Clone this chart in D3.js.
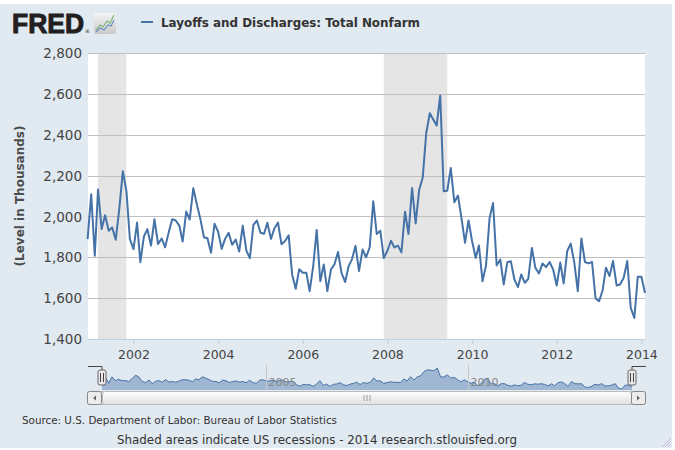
<!DOCTYPE html>
<html><head><meta charset="utf-8">
<script src="https://cdn.jsdelivr.net/npm/d3@7"></script>
<style>html,body{margin:0;padding:0;background:#fff}svg{display:block}</style>
</head><body>
<svg id="chart" width="675" height="450"></svg>
<script>
// ---- data ----
const seriesName = "Layoffs and Discharges: Total Nonfarm";
const startMonth = "2000-12-01";
const values = [
 1889,2108,1808,2132,1938,2006,1930,1946,1886,2040,2221,2124,1889,1840,1970,1776,1902,1938,1857,1986,
 1865,1892,1849,1922,1986,1980,1954,1877,2024,1985,2138,2061,1988,1898,1893,1822,1964,1926,1841,1890,
 1920,1861,1887,1828,1955,1833,1796,1959,1980,1920,1915,1969,1890,1941,1970,1864,1880,1908,1716,1646,
 1741,1724,1724,1634,1757,1934,1683,1765,1634,1741,1765,1826,1724,1679,1757,1790,1856,1733,1838,1800,
 1848,2074,1914,1930,1796,1832,1881,1848,1857,1824,2023,1914,2139,1966,2129,2191,2407,2505,2473,2445,
 2592,2123,2126,2237,2069,2102,1993,1871,1980,1879,1797,1858,1683,1760,1993,2066,1760,1789,1667,1776,
 1781,1691,1654,1716,1675,1695,1846,1748,1721,1770,1752,1777,1741,1662,1774,1672,1831,1867,1774,1634,
 1892,1777,1770,1777,1600,1585,1640,1749,1708,1782,1662,1667,1700,1782,1552,1503,1705,1705,1625
];
const recessions = [["2001-03-01","2001-11-01"],["2007-12-01","2009-06-01"]];
const yTicks = [1400,1600,1800,2000,2200,2400,2600,2800];
const xTickYears = [2002,2004,2006,2008,2010,2012,2014];
const navTickYears = [2005,2010];
const yTitle = "(Level in Thousands)";
const sourceText = "Source: U.S. Department of Labor: Bureau of Labor Statistics";
const noteText = "Shaded areas indicate US recessions - 2014 research.stlouisfed.org";

// ---- build ----
const parse = d3.timeParse("%Y-%m-%d");
const t0 = parse(startMonth);
const data = values.map((v,i)=>({date:d3.timeMonth.offset(t0,i), value:v}));

const svg = d3.select("#chart");
const BG = "#e1e9f1", LINE = "#4572a7";
svg.append("rect").attr("x",0).attr("y",4).attr("width",672).attr("height",444).attr("fill",BG);

const L=88, R=645, T=53, B=339;
const x = d3.scaleTime().domain([t0, data[data.length-1].date]).range([L-0.4,R]);
const y = d3.scaleLinear().domain([1400,2800]).range([B,T]);

svg.append("rect").attr("x",L).attr("y",T).attr("width",R-L).attr("height",B-T).attr("fill","#fff");

// recessions
svg.append("g").selectAll("rect").data(recessions).join("rect")
  .attr("x",d=>x(parse(d[0]))).attr("width",d=>x(parse(d[1]))-x(parse(d[0])))
  .attr("y",T).attr("height",B-T).attr("fill","#e5e5e5");

// grid + y labels
const yAxis = d3.axisLeft(y).tickValues(yTicks).tickSize(-(R-L)).tickFormat(d3.format(",")).tickPadding(6);
const gy = svg.append("g").attr("transform",`translate(${L},0)`).call(yAxis);
gy.select(".domain").remove();
gy.selectAll(".tick line").attr("stroke","#c0c0c0").attr("shape-rendering","crispEdges");
gy.selectAll(".tick text").attr("font-family","DejaVu Sans").attr("font-size",13.5).attr("fill","#444").attr("dy","0.34em");

// x axis
const xAxis = d3.axisBottom(x).tickValues(xTickYears.map(yr=>new Date(yr,0,1))).tickFormat(d3.timeFormat("%Y")).tickSize(5).tickPadding(6);
const gx = svg.append("g").attr("transform",`translate(0,${B})`).call(xAxis);
gx.select(".domain").attr("stroke","#c0d0e0").attr("d",`M${L},0.5H${R}`);
gx.selectAll(".tick line").attr("stroke","#c0d0e0");
gx.selectAll(".tick text").attr("font-family","DejaVu Sans").attr("font-size",12.5).attr("fill","#444");

// line
svg.append("path").datum(data).attr("fill","none").attr("stroke",LINE).attr("stroke-width",2)
  .attr("stroke-linejoin","round")
  .attr("d",d3.line().x(d=>x(d.date)).y(d=>y(d.value)));

// y title
svg.append("text").attr("transform","translate(24,196) rotate(-90)").attr("text-anchor","middle")
  .attr("font-family","DejaVu Sans").attr("font-weight","bold").attr("font-size",12).attr("fill","#4d4d4d")
  .text(yTitle);

// ---- header ----
svg.append("text").attr("x",12).attr("y",33).attr("font-family","Liberation Sans").attr("font-weight","bold")
  .attr("font-size",27).attr("fill","#231f20").attr("stroke","#231f20").attr("stroke-width",1)
  .attr("textLength",72).attr("lengthAdjust","spacingAndGlyphs").text("FRED");
svg.append("text").attr("x",85).attr("y",33).attr("font-family","DejaVu Sans").attr("font-size",5).attr("fill","#231f20").text("®");
const defs = svg.append("defs");
const g1 = defs.append("linearGradient").attr("id","ic").attr("x1",0).attr("y1",0).attr("x2",0).attr("y2",1);
g1.append("stop").attr("offset","0").attr("stop-color","#f4f4f4");
g1.append("stop").attr("offset","1").attr("stop-color","#c9c9c9");
svg.append("rect").attr("x",94).attr("y",13).attr("width",22).attr("height",21).attr("rx",2).attr("fill","url(#ic)");
svg.append("polyline").attr("points","96,30 100,25 103,27 107,21 110,23 114,15").attr("fill","none").attr("stroke","#7fb77a").attr("stroke-width",1.2);
svg.append("polyline").attr("points","96,32 100,28 104,30 108,25 111,26 114,20").attr("fill","none").attr("stroke","#6a8fc0").attr("stroke-width",1.2);
svg.append("line").attr("x1",141).attr("x2",153).attr("y1",22).attr("y2",22).attr("stroke",LINE).attr("stroke-width",2);
svg.append("text").attr("x",161).attr("y",26.5).attr("font-family","DejaVu Sans").attr("font-weight","bold")
  .attr("font-size",12.5).attr("fill","#333").attr("textLength",259).attr("lengthAdjust","spacingAndGlyphs").text(seriesName);

// ---- navigator ----
const NL=102, NR=632, NT=368, NB=390;
const nx = d3.scaleTime().domain(x.domain()).range([NL,NR]);
const ny = d3.scaleLinear().domain(d3.extent(values)).range([NB-1,NT]);
const nav = svg.append("g");
nav.append("path").datum(data).attr("fill","rgba(69,114,167,0.42)")
  .attr("d",d3.area().x(d=>nx(d.date)).y0(NB).y1(d=>ny(d.value)));
nav.append("path").datum(data).attr("fill","none").attr("stroke",LINE).attr("stroke-width",1)
  .attr("d",d3.line().x(d=>nx(d.date)).y(d=>ny(d.value)));
navTickYears.forEach(yr=>{
  const xx = Math.round(nx(new Date(yr,0,1)))+0.5;
  nav.append("line").attr("x1",xx).attr("x2",xx).attr("y1",365).attr("y2",NB).attr("stroke","#c8c8c8");
  nav.append("text").attr("x",xx+2).attr("y",386).attr("font-family","DejaVu Sans").attr("font-size",11).attr("fill","#888").text(yr);
});
// outline
nav.append("path").attr("d",`M88,366.5H${NL}V370M${NR},370V366.5H646`).attr("fill","none").attr("stroke","#444").attr("stroke-width",1);
// handles
[NL,NR].forEach(hx=>{
  nav.append("rect").attr("x",hx-4).attr("y",370).attr("width",8).attr("height",15).attr("rx",2)
    .attr("fill","#ebe7e8").attr("stroke","#666");
  nav.append("line").attr("x1",hx-1.5).attr("x2",hx-1.5).attr("y1",373).attr("y2",382).attr("stroke","#444");
  nav.append("line").attr("x1",hx+1.5).attr("x2",hx+1.5).attr("y1",373).attr("y2",382).attr("stroke","#444");
});
// scrollbar
const g2 = defs.append("linearGradient").attr("id","sb").attr("x1",0).attr("y1",0).attr("x2",0).attr("y2",1);
g2.append("stop").attr("offset","0").attr("stop-color","#ffffff");
g2.append("stop").attr("offset","1").attr("stop-color","#e0e0e0");
svg.append("rect").attr("x",87.5).attr("y",391.5).attr("width",558).attr("height",13).attr("rx",2).attr("fill","#eeeeee").attr("stroke","#bbb");
svg.append("rect").attr("x",102.5).attr("y",391.5).attr("width",529).attr("height",13).attr("rx",3).attr("fill","url(#sb)").attr("stroke","#bbb");
svg.append("rect").attr("x",87.5).attr("y",391.5).attr("width",14).attr("height",13).attr("rx",2).attr("fill","#ececec").attr("stroke","#888");
svg.append("rect").attr("x",631.5).attr("y",391.5).attr("width",14).attr("height",13).attr("rx",2).attr("fill","#ececec").attr("stroke","#888");
svg.append("path").attr("d","M96,395.5L93,398L96,400.5Z").attr("fill","#666");
svg.append("path").attr("d","M637,395.5L640,398L637,400.5Z").attr("fill","#666");
[-3,0,3].forEach(dx=>svg.append("line").attr("x1",367+dx).attr("x2",367+dx).attr("y1",395).attr("y2",401).attr("stroke","#999"));

// ---- footer ----
svg.append("text").attr("x",22).attr("y",424).attr("font-family","DejaVu Sans").attr("font-size",10)
  .attr("fill","#333").attr("textLength",315).attr("lengthAdjust","spacingAndGlyphs").text(sourceText);
svg.append("text").attr("x",117).attr("y",444).attr("font-family","DejaVu Sans").attr("font-size",12.5)
  .attr("fill","#333").attr("textLength",400).attr("lengthAdjust","spacingAndGlyphs").text(noteText);
[[668,447,671,444],[665,447,671,441],[662,447,671,438]].forEach(p=>svg.append("line")
  .attr("x1",p[0]).attr("y1",p[1]).attr("x2",p[2]).attr("y2",p[3]).attr("stroke","#c9a0d8").attr("stroke-width",0.8));
</script>
</body></html>
